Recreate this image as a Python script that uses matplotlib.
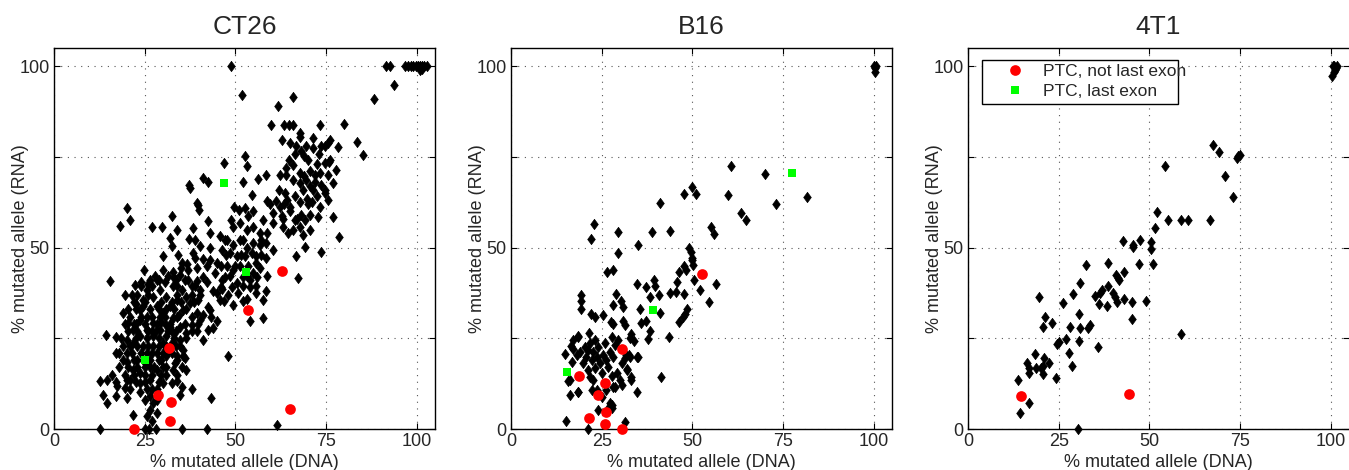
import matplotlib
matplotlib.use("Agg")
import matplotlib.pyplot as plt
from matplotlib.lines import Line2D
from matplotlib.patches import Rectangle

plt.rcParams['font.family'] = ['Liberation Sans', 'DejaVu Sans']

# ---------------- data ----------------
titles = ["CT26", "B16", "4T1"]
xticks = [0, 25, 50, 75, 100]
xtick_labels = ["0", "25", "50", "75", "100"]
yticks = [0, 25, 50, 75, 100]
ytick_labels = ["0", "", "50", "", "100"]
legend_labels = ["PTC, not last exon", "PTC, last exon"]

# CT26 (DNA %, RNA %)
ct26_black_x = [
    48.8, 91.6, 92.5, 96.7, 97.5, 98.3, 99.0, 99.7, 100.3, 100.8, 101.4, 102.0, 102.7, 100.8, 101.5,
    93.7, 88.2, 51.8, 65.9, 61.7, 59.7, 63.4, 64.8, 65.9, 73.3, 80.0, 67.9, 67.9, 71.3, 62.7,
    65.0, 66.8, 76.2, 75.6, 74.7, 78.3, 83.4, 85.2, 71.3, 73.1, 66.4, 68.2, 68.9, 52.7, 46.9,
    53.3, 64.8, 65.9, 72.6, 74.6, 75.9, 77.7, 75.6, 67.8, 68.9, 70.5, 62.4, 63.9, 65.9, 67.8,
    69.4, 70.5, 71.9, 73.3, 73.7, 74.7, 76.8, 58.3, 56.1, 52.1, 41.0, 37.2, 37.5, 54.6, 58.6,
    61.3, 62.3, 63.6, 64.1, 65.0, 66.4, 67.8, 69.6, 71.0, 72.4, 73.3, 74.7, 75.6, 60.4, 62.7,
    65.0, 66.4, 68.2, 69.1, 70.5, 72.8, 76.8, 60.4, 63.2, 64.6, 65.9, 67.8, 70.5, 68.7, 78.6,
    69.2, 73.7, 66.6, 67.3, 60.4, 56.7, 58.4, 55.8, 49.7, 50.9, 52.6, 53.5, 54.9, 57.7, 48.7,
    49.4, 51.2, 53.1, 54.9, 56.7, 58.6, 45.7, 47.6, 49.4, 51.2, 53.1, 54.9, 56.7, 58.4, 46.2,
    48.5, 50.3, 52.6, 54.5, 55.8, 44.8, 47.6, 49.4, 51.2, 54.9, 53.1, 44.3, 46.2, 48.5, 50.3,
    52.2, 54.0, 55.8, 58.6, 44.8, 48.0, 50.8, 53.1, 55.8, 58.4, 46.8, 49.4, 52.2, 57.7, 57.5,
    54.0, 48.0, 42.5, 40.0, 39.8, 39.3, 38.4, 37.3, 43.0, 42.5, 40.2, 41.1, 38.8, 32.4, 29.9,
    33.8, 26.9, 31.9, 32.5, 20.0, 20.9, 18.2, 15.4, 30.1, 34.2, 35.2, 37.0, 39.3, 42.1, 43.0,
    38.4, 12.7, 25.2, 26.1, 28.0, 35.3, 42.2, 21.9, 25.5, 26.4, 27.4, 28.3, 26.9, 20.0, 17.0,
    14.7, 13.6, 12.7, 14.5, 17.3, 17.1, 14.4, 17.1, 19.6, 20.0, 43.3, 38.1, 35.2, 34.7, 33.8,
    30.1, 32.4, 36.5, 35.6, 34.7, 61.5, 42.5, 41.1, 44.8, 43.9, 42.9, 19.6, 19.1, 20.5, 21.9,
    23.7, 24.6, 22.3, 24.8, 27.8, 30.1, 31.5, 32.9, 34.7, 36.1, 32.9, 35.2, 36.5, 37.9, 39.3,
    40.2, 39.8, 25.5, 27.4, 29.2, 31.0, 28.3, 30.1, 31.9, 33.8, 35.6, 37.5, 39.3, 40.2, 37.9,
    23.7, 25.5, 27.4, 29.2, 31.0, 32.9, 34.7, 36.5, 25.5, 27.4, 29.2, 31.0, 32.9, 23.7, 21.9,
    24.6, 27.4, 30.1, 32.4, 34.7, 20.0, 21.4, 22.8, 25.5, 28.3, 31.0, 33.8, 36.1, 20.0, 21.9,
    23.7, 26.4, 28.3, 31.0, 32.9, 35.2, 21.0, 23.7, 26.4, 28.3, 23.7, 26.4, 31.0, 33.3, 35.6,
    42.1, 43.9, 45.7, 40.2, 42.5, 39.8, 41.1, 43.4, 39.3, 46.2, 36.6, 38.9, 41.1, 43.0, 22.5,
    24.0, 26.0, 28.5, 30.5, 33.0, 35.0, 22.0, 24.5, 27.0, 29.5, 32.0, 34.5, 26.0, 28.8, 31.5,
    # extra points in the dense clusters
    26.5, 29.0, 33.5, 36.8, 24.0, 27.0, 34.0, 38.8, 21.5, 23.0, 26.0, 34.0, 38.0, 22.0, 25.0,
    29.5, 32.5, 35.0, 38.5, 20.5, 22.5, 26.5, 29.0, 31.0, 33.0, 36.5, 21.0, 24.0, 27.0, 30.5,
    34.0, 38.0, 19.5, 22.5, 25.0, 28.5, 32.0, 36.0, 20.5, 23.0, 26.0, 28.0, 31.5, 33.5, 38.0,
    18.5, 22.5, 25.5, 29.0, 33.0, 36.5, 19.0, 21.0, 23.0, 26.0, 28.8, 31.0, 33.5, 18.0, 20.0,
    24.0, 27.0, 30.0, 32.5, 19.0, 22.0, 24.5, 26.5, 29.5, 34.0, 18.0, 20.5, 23.0, 25.0, 27.5,
    30.0, 16.0, 19.5, 22.0, 25.0, 27.0, 29.5, 34.0, 17.0, 22.5, 25.0, 29.0, 21.0, 25.5, 27.0,
    25.0, 28.5, 47.0, 52.0, 57.0, 47.5, 51.5, 57.0, 46.0, 50.0, 53.5, 47.0, 52.0, 56.0, 46.0,
    49.0, 54.0, 69.5, 73.5, 70.0, 76.0, 64.0, 72.0, 62.0, 68.5, 71.5, 59.5, 63.5, 70.0, 63.0,
    67.0,
]
ct26_black_y = [
    100.0, 100.0, 100.0, 100.0, 100.0, 100.0, 100.0, 100.0, 100.0, 100.0, 100.0, 100.0, 100.0, 98.8, 99.3,
    94.9, 91.0, 92.1, 91.4, 88.9, 83.8, 83.8, 83.8, 83.8, 83.7, 84.1, 81.5, 80.6, 80.3, 79.7,
    78.8, 77.9, 79.7, 78.8, 77.9, 77.6, 79.2, 75.6, 77.4, 75.8, 75.8, 76.5, 75.1, 75.1, 73.3,
    72.4, 74.2, 72.8, 73.1, 73.3, 73.7, 71.4, 70.1, 70.5, 69.6, 71.0, 70.1, 71.9, 68.7, 67.8,
    68.7, 66.9, 68.2, 70.5, 67.3, 65.9, 67.8, 70.1, 68.9, 68.2, 69.1, 67.3, 66.4, 64.6, 62.7,
    62.7, 61.3, 65.0, 63.2, 61.3, 64.3, 62.5, 63.4, 62.5, 64.3, 61.3, 65.0, 63.2, 59.5, 58.6,
    60.0, 57.7, 59.0, 57.7, 59.0, 58.5, 58.4, 56.7, 55.8, 54.0, 54.9, 55.8, 54.9, 53.5, 52.9,
    50.1, 48.7, 47.8, 41.6, 49.2, 44.4, 47.1, 47.6, 61.3, 60.4, 60.9, 58.6, 60.0, 57.7, 57.7,
    55.8, 56.7, 54.9, 55.8, 54.0, 54.0, 53.1, 52.2, 50.8, 52.2, 49.9, 51.2, 50.8, 51.2, 49.4,
    48.5, 47.6, 47.6, 48.5, 45.7, 45.7, 44.8, 43.9, 44.8, 43.0, 42.1, 43.0, 41.1, 42.1, 40.2,
    39.3, 41.1, 39.3, 42.1, 37.5, 37.0, 37.5, 35.9, 37.5, 37.9, 35.2, 34.3, 35.2, 35.6, 30.6,
    29.7, 20.2, 68.0, 60.4, 61.8, 62.3, 55.4, 52.4, 54.0, 57.3, 50.3, 46.8, 52.2, 58.6, 55.6,
    54.9, 55.6, 52.7, 50.3, 60.9, 57.7, 56.0, 40.7, 47.8, 48.0, 45.7, 43.9, 44.4, 44.8, 49.9,
    48.5, 0.0, 0.0, 0.0, 0.0, 0.0, 0.0, 3.9, 3.5, 5.3, 7.1, 4.4, 2.1, 8.5, 9.0,
    7.2, 9.5, 13.1, 13.6, 11.8, 20.9, 25.9, 25.3, 11.3, 13.6, 8.5, 11.0, 11.7, 9.5, 13.1,
    12.7, 12.7, 16.3, 21.8, 24.6, 1.0, 27.4, 24.6, 29.7, 27.8, 32.9, 37.0, 32.0, 29.2, 27.4,
    32.9, 35.6, 39.8, 43.9, 42.1, 43.9, 42.1, 43.4, 42.5, 41.1, 39.3, 38.4, 36.5, 39.3, 40.7,
    38.4, 35.6, 38.4, 36.5, 38.4, 36.5, 33.8, 32.0, 33.8, 35.6, 32.9, 34.7, 32.0, 30.1, 28.7,
    30.1, 31.0, 29.2, 31.0, 28.7, 30.5, 28.2, 26.4, 27.4, 25.5, 27.4, 25.5, 26.4, 25.5, 23.7,
    22.8, 22.8, 23.7, 23.7, 22.8, 24.6, 21.0, 19.1, 21.0, 21.0, 20.2, 20.2, 19.7, 18.6, 16.3,
    15.4, 17.2, 16.3, 17.2, 16.3, 17.2, 13.6, 12.7, 13.6, 11.0, 10.1, 9.1, 15.0, 18.2, 20.2,
    40.5, 38.0, 35.5, 37.0, 33.5, 29.0, 31.5, 31.0, 27.0, 38.5, 45.5, 47.0, 42.0, 46.5, 34.5,
    40.5, 40.0, 41.0, 40.5, 41.5, 44.5, 29.0, 34.0, 27.0, 29.5, 28.0, 31.5, 18.5, 19.0, 21.5,
    # extra points in the dense clusters
    41.0, 41.0, 41.0, 41.0, 39.5, 39.5, 39.5, 39.5, 37.0, 37.0, 37.0, 37.0, 37.0, 35.0, 35.0,
    35.0, 35.0, 35.0, 35.0, 33.0, 33.0, 33.0, 33.0, 33.0, 33.0, 33.0, 31.0, 31.0, 31.0, 31.0,
    31.0, 31.0, 29.0, 29.0, 29.0, 29.0, 29.0, 29.0, 27.0, 27.0, 27.0, 27.0, 27.0, 27.0, 27.0,
    25.0, 25.0, 25.0, 25.0, 25.0, 25.0, 23.0, 23.0, 23.0, 23.0, 23.0, 23.0, 23.0, 21.0, 21.0,
    21.0, 21.0, 21.0, 21.0, 19.0, 19.0, 19.0, 19.0, 19.0, 19.0, 17.0, 17.0, 17.0, 17.0, 17.0,
    17.0, 15.0, 15.0, 15.0, 15.0, 15.0, 15.0, 15.0, 13.0, 13.0, 13.0, 13.0, 11.0, 11.0, 11.0,
    8.0, 8.0, 52.0, 52.0, 52.0, 48.0, 48.0, 48.0, 45.0, 45.0, 45.0, 42.0, 42.0, 42.0, 39.0,
    39.0, 39.0, 78.0, 78.0, 74.0, 74.0, 70.0, 70.0, 66.0, 66.0, 66.0, 62.0, 62.0, 62.0, 58.0,
    58.0,
]
ct26_red_x = [31.7, 28.6, 32.2, 31.9, 22.0, 53.5, 62.7, 65.1]
ct26_red_y = [22.2, 9.5, 7.5, 2.1, 0.0, 32.7, 43.5, 5.4]
ct26_green_x = [46.8, 52.8, 25.1]
ct26_green_y = [67.8, 43.2, 18.9]

# B16
b16_black_x = [
    60.5, 70.0, 47.6, 49.8, 51.1, 59.9, 81.5, 41.0, 72.9, 63.4, 64.9, 23.0, 22.1, 29.5, 38.9,
    43.7, 55.1, 56.0, 34.9, 49.0, 49.5, 50.0, 50.0, 29.6, 26.4, 28.0, 48.2, 47.7, 46.4, 50.2,
    50.5, 34.7, 37.3, 39.5, 39.8, 38.2, 40.8, 45.8, 52.2, 56.4, 43.7, 45.6, 47.6, 54.7, 19.4,
    19.4, 19.4, 28.8, 30.3, 30.9, 28.1, 22.1, 23.1, 25.3, 35.6, 41.1, 48.6, 47.9, 47.3, 46.4,
    27.6, 28.2, 30.9, 31.4, 37.3, 35.8, 38.3, 37.8, 43.5, 33.1, 33.9, 21.4, 18.4, 17.2, 16.6,
    14.8, 31.8, 32.5, 34.9, 32.0, 33.1, 41.4, 34.8, 30.6, 28.6, 27.9, 15.2, 15.7, 16.2, 18.5,
    27.7, 27.1, 24.1, 31.5, 21.3, 100.0, 100.3, 100.6, 100.3,
    16.7, 17.2, 18.1, 18.5, 19.0, 19.9, 20.4, 20.8, 21.3, 21.8, 22.2, 22.7, 23.1, 23.1, 23.6,
    24.0, 24.5, 25.0, 25.4, 25.9, 26.3, 26.8, 27.3, 27.7, 28.2, 28.6, 29.1, 29.6, 30.0, 30.5,
    31.4, 31.9, 32.8, 32.8, 33.2, 34.6, 21.3, 21.8, 22.7, 23.6, 26.3, 28.2, 16.2, 18.5, 22.2,
    27.3, 25.0, 27.7,
]
b16_black_y = [
    72.4, 70.3, 64.9, 66.8, 64.8, 64.6, 63.8, 62.4, 61.9, 59.5, 57.7, 56.5, 52.4, 54.3, 54.2,
    54.7, 55.8, 53.8, 50.7, 49.9, 48.8, 47.1, 46.6, 48.5, 43.4, 43.7, 43.9, 44.8, 43.4, 45.1,
    41.0, 40.0, 39.1, 41.1, 39.3, 36.5, 36.8, 40.5, 38.4, 40.0, 37.5, 37.7, 37.2, 35.0, 37.0,
    35.4, 33.1, 37.3, 35.2, 33.6, 34.2, 31.7, 31.0, 31.4, 33.1, 32.1, 33.0, 31.8, 31.0, 29.5,
    29.4, 29.0, 29.7, 28.7, 29.8, 29.1, 26.9, 24.7, 25.3, 26.2, 24.2, 26.4, 25.5, 24.6, 22.8,
    20.7, 20.4, 20.4, 19.8, 16.5, 14.2, 14.2, 10.1, 12.0, 11.6, 14.6, 2.1, 13.3, 9.3, 10.2,
    6.7, 6.1, 5.3, 1.8, 0.0, 100.0, 99.4, 100.0, 98.3,
    18.6, 22.0, 20.3, 25.4, 21.3, 18.1, 22.7, 19.9, 21.8, 23.6, 19.0, 21.3, 24.5, 16.7, 19.9,
    22.7, 18.1, 15.3, 20.4, 23.6, 19.0, 17.2, 21.3, 25.4, 19.9, 23.2, 15.3, 24.5, 13.5, 18.1,
    19.5, 16.3, 25.0, 19.9, 13.5, 19.9, 16.3, 14.4, 13.5, 10.8, 10.8, 11.7, 13.5, 10.3, 10.8,
    7.1, 8.9, 5.7,
]
b16_red_x = [52.7, 30.5, 18.7, 25.8, 24.0, 26.1, 21.5, 26.0, 30.7]
b16_red_y = [42.8, 22.1, 14.6, 12.8, 9.5, 4.7, 2.9, 1.5, 0.0]
b16_green_x = [77.5, 39.2, 15.5]
b16_green_y = [70.6, 32.7, 15.7]

# 4T1
t41_black_x = [
    67.6, 69.2, 74.0, 74.4, 74.9, 54.2, 70.8, 72.9, 52.1, 55.0, 58.7, 60.7, 66.6, 51.4, 42.6,
    47.3, 45.4, 45.4, 50.4, 50.4, 51.0, 47.2, 38.7, 32.4, 42.9, 40.8, 41.3, 41.7, 30.9, 38.7,
    28.9, 36.8, 36.4, 35.0, 19.6, 40.0, 40.4, 42.9, 41.2, 36.1, 38.2, 45.2, 49.1, 26.1, 30.6,
    21.2, 45.2, 23.2, 20.7, 28.0, 30.8, 33.0, 33.6, 58.7, 27.0, 25.1, 24.6, 30.7, 35.8, 18.4,
    27.9, 16.2, 16.7, 16.7, 18.8, 21.0, 20.7, 20.7, 22.4, 20.2, 28.7, 13.8, 24.3, 16.8, 14.2,
    30.2, 100.5, 101.0, 101.5, 100.8, 100.3, 101.2, 101.8,
]
t41_black_y = [
    78.3, 76.3, 74.6, 75.2, 75.6, 72.6, 69.7, 64.0, 59.8, 57.5, 57.7, 57.7, 57.6, 55.4, 51.8,
    52.0, 50.7, 50.2, 51.5, 49.6, 45.5, 45.6, 45.7, 45.1, 43.4, 42.5, 41.6, 41.1, 40.2, 39.5,
    37.2, 38.2, 37.5, 36.7, 36.5, 37.5, 36.5, 35.9, 35.0, 34.5, 34.0, 34.9, 35.4, 34.8, 31.6,
    31.0, 30.4, 29.1, 28.2, 28.1, 27.8, 27.9, 28.6, 26.2, 24.8, 23.9, 23.3, 24.2, 22.5, 20.7,
    21.0, 18.2, 16.8, 15.4, 16.8, 19.7, 17.3, 15.1, 18.2, 16.8, 17.4, 13.5, 14.1, 7.1, 4.4,
    0.0, 100.0, 100.0, 99.5, 98.5, 97.3, 99.0, 100.0,
]
t41_red_x = [14.6, 44.3]
t41_red_y = [9.0, 9.7]
t41_green_x = []
t41_green_y = []

panels = [
    (ct26_black_x, ct26_black_y, ct26_red_x, ct26_red_y, ct26_green_x, ct26_green_y),
    (b16_black_x, b16_black_y, b16_red_x, b16_red_y, b16_green_x, b16_green_y),
    (t41_black_x, t41_black_y, t41_red_x, t41_red_y, t41_green_x, t41_green_y),
]

# ---------------- figure ----------------
W, H = 1349, 470
fig = plt.figure(figsize=(W / 100, H / 100), dpi=100)
lefts = [54, 511, 968]
ax_w, ax_h, ax_b = 381, 381, 41
txt = '#262626'

diamond = [(0, 1), (0.74, 0), (0, -1), (-0.74, 0), (0, 1)]
ms_black, ms_red, ms_green = 7.4, 7.7, 6.0

for i, (bx, by, rx, ry, gx, gy) in enumerate(panels):
    ax = fig.add_axes([lefts[i] / W, ax_b / H, ax_w / W, ax_h / H])
    ax.plot(bx, by, linestyle='none', marker=diamond, markersize=ms_black,
            color='black', markeredgewidth=0.5, clip_on=False, zorder=3)
    ax.plot(rx, ry, linestyle='none', marker='o', markersize=ms_red,
            color='#ff0000', markeredgewidth=0, clip_on=False, zorder=4)
    if len(gx):
        ax.plot(gx, gy, linestyle='none', marker='s', markersize=ms_green,
                color='#00ff00', markeredgewidth=0, clip_on=False, zorder=4)
    ax.set_xlim(0, 105)
    ax.set_ylim(0, 105)
    ax.set_xticks(xticks)
    ax.set_xticklabels(xtick_labels)
    ax.set_yticks(yticks)
    ax.set_yticklabels(ytick_labels)
    ax.tick_params(direction='in', length=4, width=0.8, top=True, right=True,
                   labelsize=13, colors='black', labelcolor=txt, pad=3)
    ax.grid(True, linestyle=(0, (1, 5)), color='#555555', linewidth=0.8)
    ax.set_axisbelow(True)
    for s in ax.spines.values():
        s.set_linewidth(1.0)
    ax.set_xlabel('% mutated allele (DNA)', fontsize=13, color=txt, labelpad=3)
    ax.set_ylabel('% mutated allele (RNA)', fontsize=13, color=txt, labelpad=-7)
    ax.set_title(titles[i], fontsize=19, color=txt, pad=10)
    if i == 2:
        ax.spines['right'].set_visible(False)
        handles = [
            Line2D([], [], linestyle='none', marker='o', markersize=ms_red,
                   color='#ff0000', markeredgewidth=0),
            Line2D([], [], linestyle='none', marker='s', markersize=ms_green,
                   color='#00ff00', markeredgewidth=0),
        ]
        leg = ax.legend(handles, legend_labels, loc='upper left',
                        bbox_to_anchor=((997.5 - 968) / ax_w, (429 - 64) / ax_h),
                        fontsize=12.5, frameon=False, borderpad=0,
                        handletextpad=0.62, labelspacing=0.28, handlelength=2.0,
                        borderaxespad=0)
        for t in leg.get_texts():
            t.set_color(txt)
        frame = Rectangle(((982 - 968) / ax_w, (429 - 104) / ax_h),
                          (1178 - 982) / ax_w, (104 - 60) / ax_h,
                          transform=ax.transAxes, facecolor='white',
                          edgecolor='black', linewidth=1.0, zorder=4.5)
        ax.add_patch(frame)
        leg.set_zorder(5)

fig.savefig('out.png', dpi=100)
